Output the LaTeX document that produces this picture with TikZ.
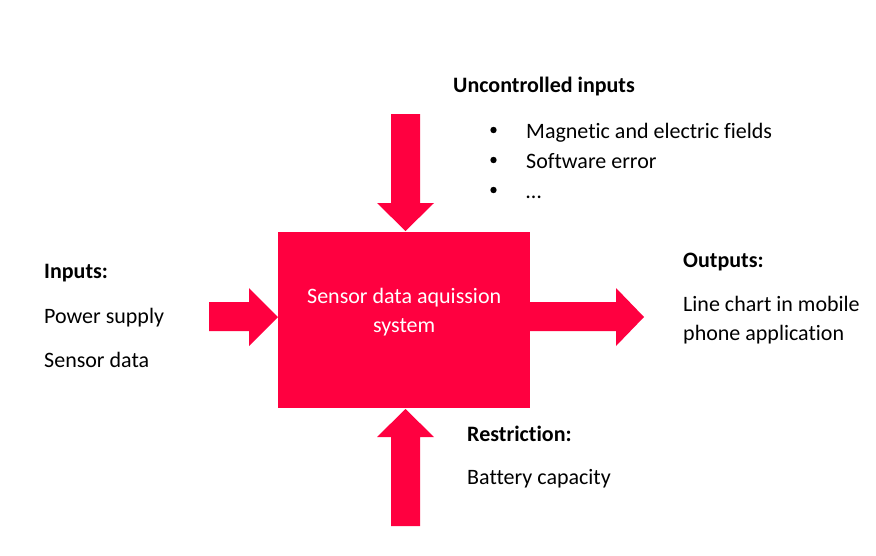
\documentclass[tikz,border=0pt]{standalone}
\usepackage{fontspec}
\setmainfont{Carlito}[Ligatures={NoCommon}]
\definecolor{sred}{RGB}{255,0,64}
\begin{document}
\begin{tikzpicture}[x=1pt,y=-1pt,
  lbl/.style={anchor=base west,inner sep=0pt,font=\fontsize{22}{26}\selectfont},
  blbl/.style={lbl,font=\fontsize{22}{26}\selectfont\bfseries},
  fillred/.style={fill=sred,draw=none}]
\useasboundingbox (0,0) rectangle (876,555);
% box
\node[fillred,minimum width=252pt,minimum height=176pt,inner sep=0pt,anchor=north west] (box) at (278,232) {};
\node[text=white,align=center,inner sep=0pt,font=\fontsize{22}{29}\selectfont] (boxtxt) at ([yshift=8pt]box.center) {Sensor data aquission\\system};
% top arrow
\fill[sred] (391,114) -- (420,114) -- (420,203) -- (434,203) -- (405.5,231) -- (377,203) -- (391,203) -- cycle;
% bottom arrow
\fill[sred] (391,526) -- (420,526) -- (420,437) -- (434,437) -- (405.5,409) -- (377,437) -- (391,437) -- cycle;
% left arrow
\fill[sred] (209,302) -- (249,302) -- (249,288) -- (278,317) -- (249,346) -- (249,331) -- (209,331) -- cycle;
% right arrow
\fill[sred] (530,302) -- (616,302) -- (616,288) -- (644,317) -- (616,346) -- (616,331) -- (530,331) -- cycle;
% texts
\node[blbl] (unc) at (453,92) {Uncontrolled inputs};
\node[lbl] (b1) at (526,138) {Magnetic and electric fields};
\node[lbl] (b2) at (526,168) {Software error};
\node[lbl] (b3) at (526,198) {\dots};
\foreach \yy in {130,160,190} \fill (493.5,\yy) circle (3.2pt);
\node[blbl] (inp) at (44,278) {Inputs:};
\node[lbl] (ps) at (44,323) {Power supply};
\node[lbl] (sd) at (44,367) {Sensor data};
\node[blbl] (out) at (683,267) {Outputs:};
\node[lbl] (lc) at (683,311) {Line chart in mobile};
\node[lbl] (pa) at (683,340) {phone application};
\node[blbl] (res) at (467,441) {Restriction:};
\node[lbl] (bc) at (467,484) {Battery capacity};
\end{tikzpicture}
\end{document}
